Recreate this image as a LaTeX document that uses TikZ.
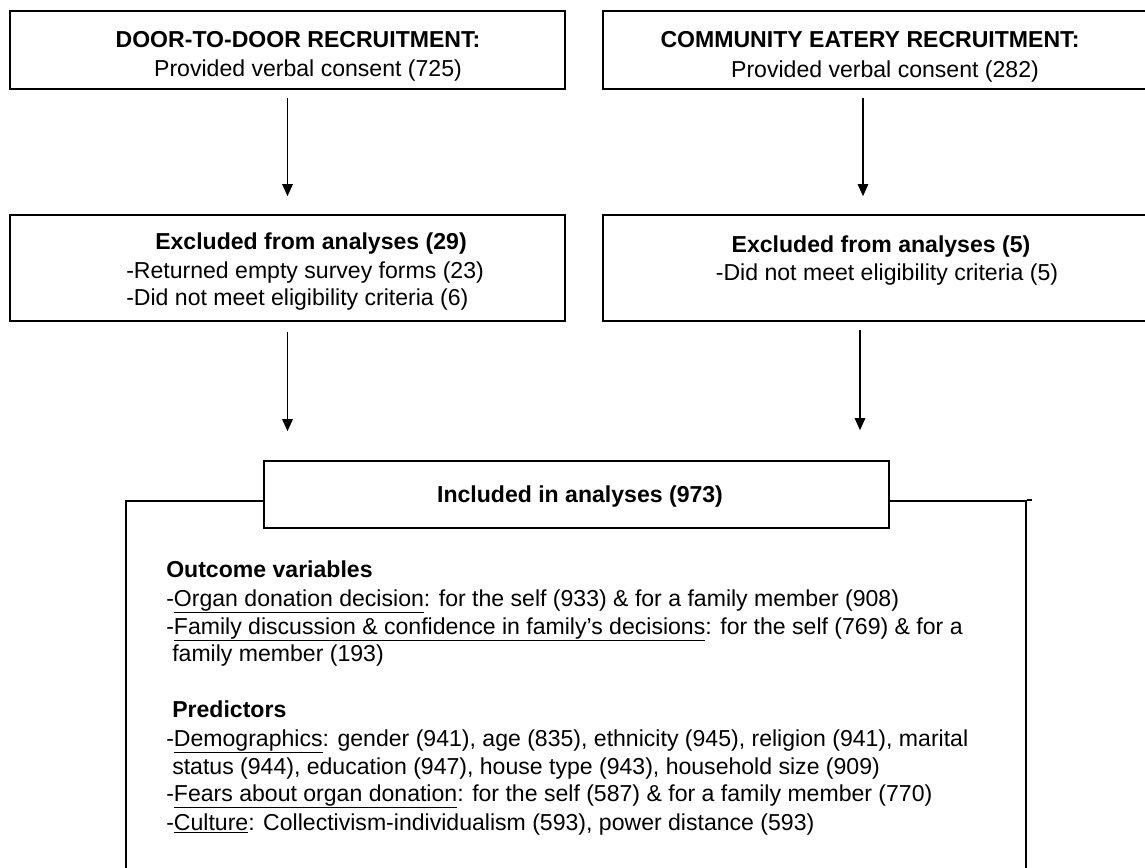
\documentclass[tikz,border=0pt]{standalone}
\usepackage{fontspec}
\setmainfont{Liberation Sans}
\usetikzlibrary{arrows.meta,fit,calc}

\begin{document}
\begin{tikzpicture}[x=0.025cm,y=-0.025cm,
    box/.style={draw,line width=1.1pt,inner sep=0pt,fill=white},
    lbl/.style={inner sep=0pt,font=\fontsize{16.4}{19.6}\selectfont},
    arr/.style={line width=1.1pt,-{Triangle[length=0.3cm,width=0.26cm]}}]
    \useasboundingbox (0,0) rectangle (1145,868);
    \clip (0,0) rectangle (1145,868);

    % recruitment boxes
    \node[box,fit={(10,11) (565,89)}] (d2d) {};
    \node[box,fit={(603,11) (1160,89)}] (ceb) {};
    \node[lbl,anchor=base] (d2dhead) at (298,47) {\textbf{DOOR-TO-DOOR RECRUITMENT:}};
    \node[lbl,anchor=base] (d2dcons) at (308,76) {Provided verbal consent (725)};
    \node[lbl,anchor=base] (cebhead) at (870,48) {\textbf{COMMUNITY EATERY RECRUITMENT:}};
    \node[lbl,anchor=base] (cebcons) at (885,77) {Provided verbal consent (282)};

    % exclusion boxes
    \node[box,fit={(10,215) (565,321)}] (d2dexc) {};
    \node[box,fit={(603,215) (1160,321)}] (cebexc) {};
    \node[lbl,anchor=base] (d2dexchead) at (311,249) {\textbf{Excluded from analyses (29)}};
    \node[lbl,anchor=base west] (d2dempty) at (126,278) {-Returned empty survey forms (23)};
    \node[lbl,anchor=base west] (d2delig) at (126,305) {-Did not meet eligibility criteria (6)};
    \node[lbl,anchor=base] (cebexchead) at (881,252) {\textbf{Excluded from analyses (5)}};
    \node[lbl,anchor=base] (ceblelig) at (887,280) {-Did not meet eligibility criteria (5)};

    % included
    \node[box,fit={(126,501) (1026,885)}] (frame) {};
    \draw[line width=1.1pt] (frame.north east) -- ++(5,0);
    \node[box,fit={(264,461) (889,528)}] (incl) {};
    \node[lbl,anchor=base] (inclhead) at (580,502) {\textbf{Included in analyses (973)}};

    \node[lbl,anchor=base west] (outhead) at (166,577) {\textbf{Outcome variables}};
    \node[lbl,anchor=base west] (out1) at (166,606) {-\underline{Organ donation decision}: for the self (933) \& for a family member (908)};
    \node[lbl,anchor=base west] (out2) at (166,634) {-\underline{Family discussion \& confidence in family’s decisions}: for the self (769) \& for a};
    \node[lbl,anchor=base west] (out3) at (172,661) {family member (193)};

    \node[lbl,anchor=base west] (predhead) at (172,717) {\textbf{Predictors}};
    \node[lbl,anchor=base west] (pred1) at (166,746) {-\underline{Demographics}: gender (941), age (835), ethnicity (945), religion (941), marital};
    \node[lbl,anchor=base west] (pred2) at (172,774) {status (944), education (947), house type (943), household size (909)};
    \node[lbl,anchor=base west] (pred3) at (166,801) {-\underline{Fears about organ donation}: for the self (587) \& for a family member (770)};
    \node[lbl,anchor=base west] (pred4) at (166,830) {-\underline{Culture}: Collectivism-individualism (593), power distance (593)};

    % arrows
    \draw[arr] ($(d2d.south)+(0,8)$) -- ($(d2dexc.north)+(0,-18)$);
    \draw[arr] ($(ceb.south)+(-18.5,8)$) -- ($(cebexc.north)+(-18.5,-18)$);
    \draw[arr] ($(d2dexc.south)+(0,10)$) -- ($(d2dexc.south |- incl.north)+(0,-29)$);
    \draw[arr] ($(cebexc.south)+(-21.5,8)$) -- ($(cebexc.south |- incl.north)+(-21.5,-30)$);
\end{tikzpicture}
\end{document}
